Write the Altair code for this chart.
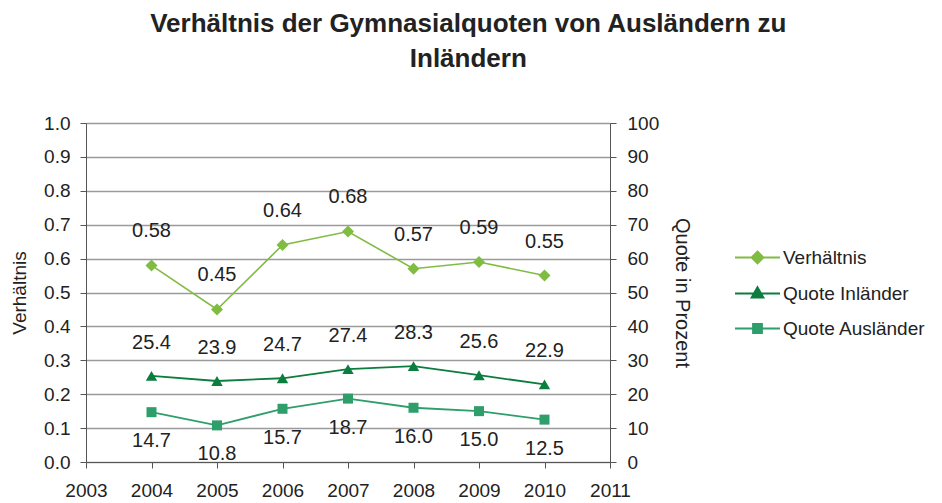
import altair as alt
import pandas as pd

years = [2004, 2005, 2006, 2007, 2008, 2009, 2010]
verhaeltnis = [0.58, 0.45, 0.64, 0.68, 0.57, 0.59, 0.55]
quote_inlaender = [25.4, 23.9, 24.7, 27.4, 28.3, 25.6, 22.9]
quote_auslaender = [14.7, 10.8, 15.7, 18.7, 16.0, 15.0, 12.5]

series_names = ["Verhältnis", "Quote Inländer", "Quote Ausländer"]
series_colors = ["#80BC42", "#0B7D3E", "#2E9E6A"]

df_r = pd.DataFrame({"year": years, "value": verhaeltnis, "series": "Verhältnis"})
df_in = pd.DataFrame({"year": years, "value": quote_inlaender, "series": "Quote Inländer"})
df_aus = pd.DataFrame({"year": years, "value": quote_auslaender, "series": "Quote Ausländer"})
df_leg = pd.DataFrame({"series": series_names})

FONT = "Liberation Sans"
TXT = "#222222"

# legend symbols: a short line with the marker on it
legend_paths = [
    "M-3,0H3M0,-0.8L0.8,0L0,0.8L-0.8,0Z",
    "M-3,0H3M0,-0.85L0.8,0.55L-0.8,0.55Z",
    "M-3,0H3M-0.6,-0.6H0.6V0.6H-0.6Z",
]

x_enc = alt.X(
    "year:Q",
    scale=alt.Scale(domain=[2003, 2011], nice=False, zero=False),
    axis=alt.Axis(
        title=None, values=list(range(2003, 2012)), format="d",
        grid=False, labelFontSize=19, labelFont=FONT, labelColor=TXT,
        labelFlush=False, labelOverlap=False,
        tickSize=6, labelPadding=13, domainColor="#555555", tickColor="#555555",
    ),
)

y_left = alt.Y(
    "value:Q",
    scale=alt.Scale(domain=[0, 1], nice=False),
    axis=alt.Axis(
        title="Verhältnis", values=[i / 10 for i in range(11)], format=".1f",
        grid=True, gridColor="#9a9a9a", gridWidth=1.3,
        labelFontSize=19, labelFont=FONT, labelColor=TXT, labelOverlap=False,
        titleFontSize=19, titleFont=FONT, titleFontWeight="normal", titleColor=TXT,
        titlePadding=14, tickSize=6, labelPadding=10,
        domainColor="#555555", tickColor="#555555",
    ),
)
y_right = alt.Y(
    "value:Q",
    scale=alt.Scale(domain=[0, 100], nice=False),
    axis=alt.Axis(
        title="Quote in Prozent", orient="right", values=list(range(0, 101, 10)),
        format="d", grid=False, labelOverlap=False,
        labelFontSize=19, labelFont=FONT, labelColor=TXT,
        titleFontSize=20, titleFont=FONT, titleFontWeight="normal", titleColor=TXT,
        titlePadding=13, tickSize=6, labelPadding=11,
        domainColor="#555555", tickColor="#555555",
    ),
)

leg_props = dict(
    title=None, orient="none", legendX=662, legendY=125,
    labelFontSize=19, labelFont=FONT, labelColor=TXT,
    symbolSize=225, symbolStrokeWidth=1.8, labelOffset=16,
    rowPadding=15, padding=0,
)
leg_scale = alt.Scale(domain=series_names, range=series_colors)

# ratio (left axis)
base_r = alt.Chart(df_r).encode(x=x_enc, y=y_left)
line_r = base_r.mark_line(color=series_colors[0], strokeWidth=1.6)
pts_r = base_r.mark_point(filled=True, size=144, opacity=1, shape="diamond", color=series_colors[0])
txt_r = base_r.mark_text(dy=-34, fontSize=20, font=FONT, color=TXT).encode(
    text=alt.Text("value:Q", format=".2f"))
leg = alt.Chart(df_leg).transform_filter("false").mark_point(
    filled=True, opacity=1, strokeWidth=1.8).encode(
    fill=alt.Fill("series:N", scale=leg_scale, legend=alt.Legend(**leg_props)),
    stroke=alt.Stroke("series:N", scale=leg_scale, legend=alt.Legend(**leg_props)),
    shape=alt.Shape("series:N", scale=alt.Scale(domain=series_names, range=legend_paths),
                    legend=alt.Legend(**leg_props)),
)
left = alt.layer(line_r, pts_r, txt_r, leg)

# quotes (right axis)
base_in = alt.Chart(df_in).encode(x=x_enc, y=y_right)
line_in = base_in.mark_line(strokeWidth=1.8, color=series_colors[1])
pts_in = base_in.mark_point(filled=True, size=130, opacity=1, shape="triangle-up", color=series_colors[1])
txt_in = base_in.mark_text(dy=-33, fontSize=20, font=FONT, color=TXT).encode(
    text=alt.Text("value:Q", format=".1f"))

base_aus = alt.Chart(df_aus).encode(x=x_enc, y=y_right)
line_aus = base_aus.mark_line(strokeWidth=1.8, color=series_colors[2])
pts_aus = base_aus.mark_point(filled=True, size=100, opacity=1, shape="square", color=series_colors[2])
txt_aus = base_aus.mark_text(dy=29, fontSize=20, font=FONT, color=TXT).encode(
    text=alt.Text("value:Q", format=".1f"))

right = alt.layer(line_in, pts_in, txt_in, line_aus, pts_aus, txt_aus)

chart = alt.layer(left, right).resolve_scale(y="independent").properties(
    width=524, height=339,
    padding={"left": 2, "right": 0, "top": 3, "bottom": 0},
    title=alt.TitleParams(
        text=["Verhältnis der Gymnasialquoten von Ausländern zu", "Inländern"],
        fontSize=26, font=FONT, fontWeight="bold", color=TXT,
        lineHeight=35, anchor="middle", frame="bounds", offset=42,
    ),
).configure_view(stroke=None).configure(background="white")

chart.save("out.html", embed_options={"renderer": "svg", "actions": False})
